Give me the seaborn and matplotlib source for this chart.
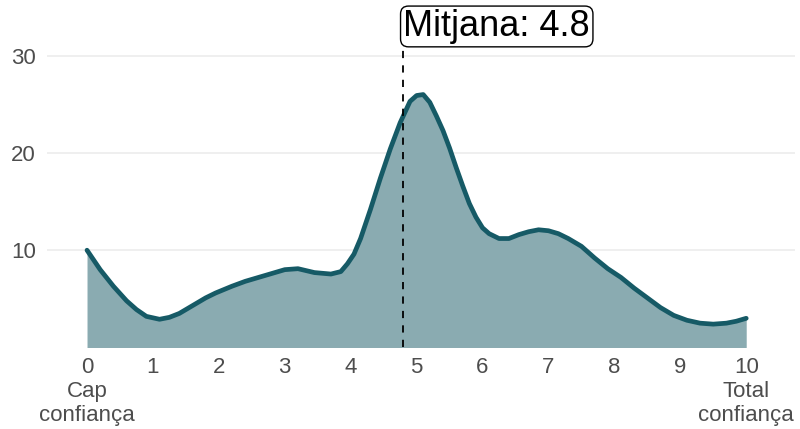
import matplotlib
matplotlib.use("Agg")
import matplotlib.pyplot as plt
import seaborn as sns
import pandas as pd

# Data
x_vals = [0, 0.2, 0.4, 0.6, 0.75, 0.9, 1.1, 1.25, 1.4, 1.6, 1.8, 1.95, 2.2, 2.4, 2.7,
          3.0, 3.2, 3.45, 3.7, 3.85, 3.95, 4.05, 4.15, 4.3, 4.45, 4.6, 4.75, 4.9, 5.0,
          5.1, 5.2, 5.3, 5.4, 5.5, 5.6, 5.7, 5.8, 5.9, 6.0, 6.1, 6.25, 6.4, 6.55, 6.7,
          6.85, 7.0, 7.15, 7.3, 7.5, 7.7, 7.9, 8.1, 8.3, 8.5, 8.7, 8.9, 9.1, 9.3, 9.5,
          9.7, 9.85, 10.0]
y_vals = [10.0, 8.0, 6.3, 4.8, 3.9, 3.2, 2.9, 3.1, 3.5, 4.3, 5.1, 5.6, 6.3, 6.8, 7.4,
          8.0, 8.1, 7.7, 7.55, 7.8, 8.6, 9.6, 11.2, 14.2, 17.4, 20.4, 23.1, 25.3, 25.9,
          26.0, 25.2, 23.8, 22.3, 20.5, 18.5, 16.6, 14.8, 13.4, 12.3, 11.7, 11.2, 11.2,
          11.6, 11.9, 12.1, 12.0, 11.7, 11.2, 10.4, 9.2, 8.1, 7.2, 6.1, 5.1, 4.1, 3.3,
          2.8, 2.5, 2.4, 2.5, 2.7, 3.0]
mean_value = 4.8
x_ticks = [0, 1, 2, 3, 4, 5, 6, 7, 8, 9, 10]
x_tick_labels = ["0\nCap\nconfiança", "1", "2", "3", "4", "5", "6", "7", "8", "9",
                 "10\nTotal\nconfiança"]
y_ticks = [10, 20, 30]
y_tick_labels = ["10", "20", "30"]
label_text = "Mitjana: 4.8"

line_color = "#165a66"
fill_color = "#8aabb1"
text_color = "#4d4d4d"

sns.set_theme(style="white")
plt.rcParams["font.family"] = ["Liberation Sans", "DejaVu Sans"]

df = pd.DataFrame({"x": x_vals, "y": y_vals})

fig = plt.figure(figsize=(8, 4.29), dpi=100)
ax = fig.add_axes([0.05875, 0.19, 0.935, 0.703])

ax.fill_between(df["x"], 0, df["y"], color=fill_color, linewidth=0, zorder=2)
sns.lineplot(data=df, x="x", y="y", ax=ax, color=line_color, linewidth=3.4,
             zorder=3, sort=False)

ax.set_xlim(-0.607, 10.74)
ax.set_ylim(0, 31)

for yt in y_ticks:
    ax.axhline(yt, color="#ebebeb", linewidth=1.1, zorder=1)

ax.vlines(mean_value, 0, 31, colors="black", linestyles=(0, (4, 4)), linewidth=1.3,
          zorder=4, clip_on=False)
ax.text(mean_value, 31.2, label_text, ha="left", va="bottom", fontsize=26,
        color="black", clip_on=False, zorder=5,
        bbox=dict(boxstyle="round,pad=0.08,rounding_size=0.22", fc="white",
                  ec="black", lw=1.0))

ax.set_xticks(x_ticks)
ax.set_xticklabels(x_tick_labels, fontsize=16, color=text_color, linespacing=1.17,
                   va="top")
ax.set_yticks(y_ticks)
ax.set_yticklabels(y_tick_labels, fontsize=16, color=text_color)
ax.tick_params(axis="x", length=0, pad=7)
ax.tick_params(axis="y", length=0, pad=8)
ax.set_xlabel("")
ax.set_ylabel("")
for s in ax.spines.values():
    s.set_visible(False)
ax.grid(False)

fig.savefig("out.png", dpi=100)
